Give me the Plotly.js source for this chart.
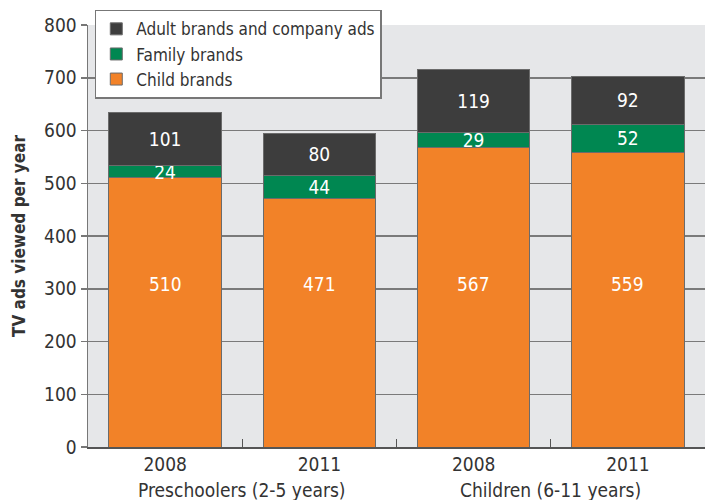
<!DOCTYPE html>
<html>
<head>
<meta charset="utf-8">
<script src="https://cdn.plot.ly/plotly-3.0.1.min.js"></script>
<style>html,body{margin:0;padding:0;background:#fff;}</style>
</head>
<body>
<div id="chart" style="width:707px;height:500px;"></div>
<script>
const categories = ["Pre-2008", "Pre-2011", "Chi-2008", "Chi-2011"];
const yearLabels = ["2008", "2011", "2008", "2011"];
const groupLabels = ["Preschoolers (2-5 years)", "Children (6-11 years)"];
const childBrands = [510, 471, 567, 559];
const familyBrands = [24, 44, 29, 52];
const adultBrands = [101, 80, 119, 92];

const FONT = '"DejaVu Sans Condensed", "Liberation Sans Narrow", Roboto, sans-serif';
const outline = {color: '#6b6b6b', width: 1};

function barTrace(name, vals, color, showText) {
  return {
    type: 'bar', name: name, x: categories, y: vals,
    marker: {color: color, line: outline},
    text: vals.map(String), textposition: showText ? 'inside' : 'none',
    insidetextanchor: 'middle', textangle: 0,
    constraintext: 'none', cliponaxis: false,
    textfont: {color: '#ffffff', size: 19, family: FONT},
    hoverinfo: 'none', width: 0.73
  };
}

const data = [
  barTrace('Child brands', childBrands, '#f28228', false),
  barTrace('Family brands', familyBrands, '#008751', true),
  barTrace('Adult brands and company ads', adultBrands, '#3d3d3d', true)
];

const groupAnn = groupLabels.map((g, i) => ({
  text: g, x: 0.5 + 2 * i, y: 0, xref: 'x', yref: 'paper',
  yshift: -43, showarrow: false, yanchor: 'middle',
  font: {family: FONT, size: 19, color: '#333333'}
}));
const childAnn = childBrands.map((v, i) => ({
  text: String(v), x: categories[i], y: 0.386, xref: 'x', yref: 'paper',
  showarrow: false, yanchor: 'middle',
  font: {family: FONT, size: 19, color: '#ffffff'}
}));

const layout = {
  width: 707, height: 500,
  margin: {l: 88, r: 2, t: 25, b: 53},
  paper_bgcolor: '#ffffff', plot_bgcolor: '#e6e7e9',
  barmode: 'stack', bargap: 0.27,
  font: {family: FONT, size: 19, color: '#333333'},
  showlegend: true,
  legend: {
    x: 0.011, y: 1.036, xanchor: 'left', yanchor: 'top',
    bgcolor: '#ffffff', bordercolor: '#777777', borderwidth: 1.5,
    traceorder: 'reversed', font: {family: FONT, size: 17, color: '#333333'},
    tracegroupgap: 0, itemwidth: 30
  },
  uniformtext: {minsize: 19, mode: 'show'},
  xaxis: {
    type: 'category', tickvals: categories, ticktext: yearLabels,
    tickson: 'boundaries', ticks: 'inside', ticklen: 8, tickcolor: '#555555', tickwidth: 1,
    showline: true, linecolor: '#555555', linewidth: 1.5,
    showgrid: false, zeroline: false, range: [-0.5, 3.5], fixedrange: true,
    tickfont: {family: FONT, size: 19, color: '#333333'}
  },
  yaxis: {
    range: [0, 800], dtick: 100, tick0: 0,
    ticks: 'outside', ticklen: 6, tickcolor: '#777777', tickwidth: 1.5,
    showline: true, linecolor: '#777777', linewidth: 1.5,
    showgrid: true, gridcolor: '#7a7a7a', gridwidth: 1.5, zeroline: false,
    tickfont: {family: FONT, size: 19, color: '#333333'},
    title: {text: '<b>TV ads viewed per year</b>', standoff: 14,
            font: {family: FONT, size: 17, color: '#333333'}}
  },
  annotations: groupAnn.concat(childAnn)
};

Plotly.newPlot('chart', data, layout, {displayModeBar: false, staticPlot: true});
</script>
</body>
</html>
